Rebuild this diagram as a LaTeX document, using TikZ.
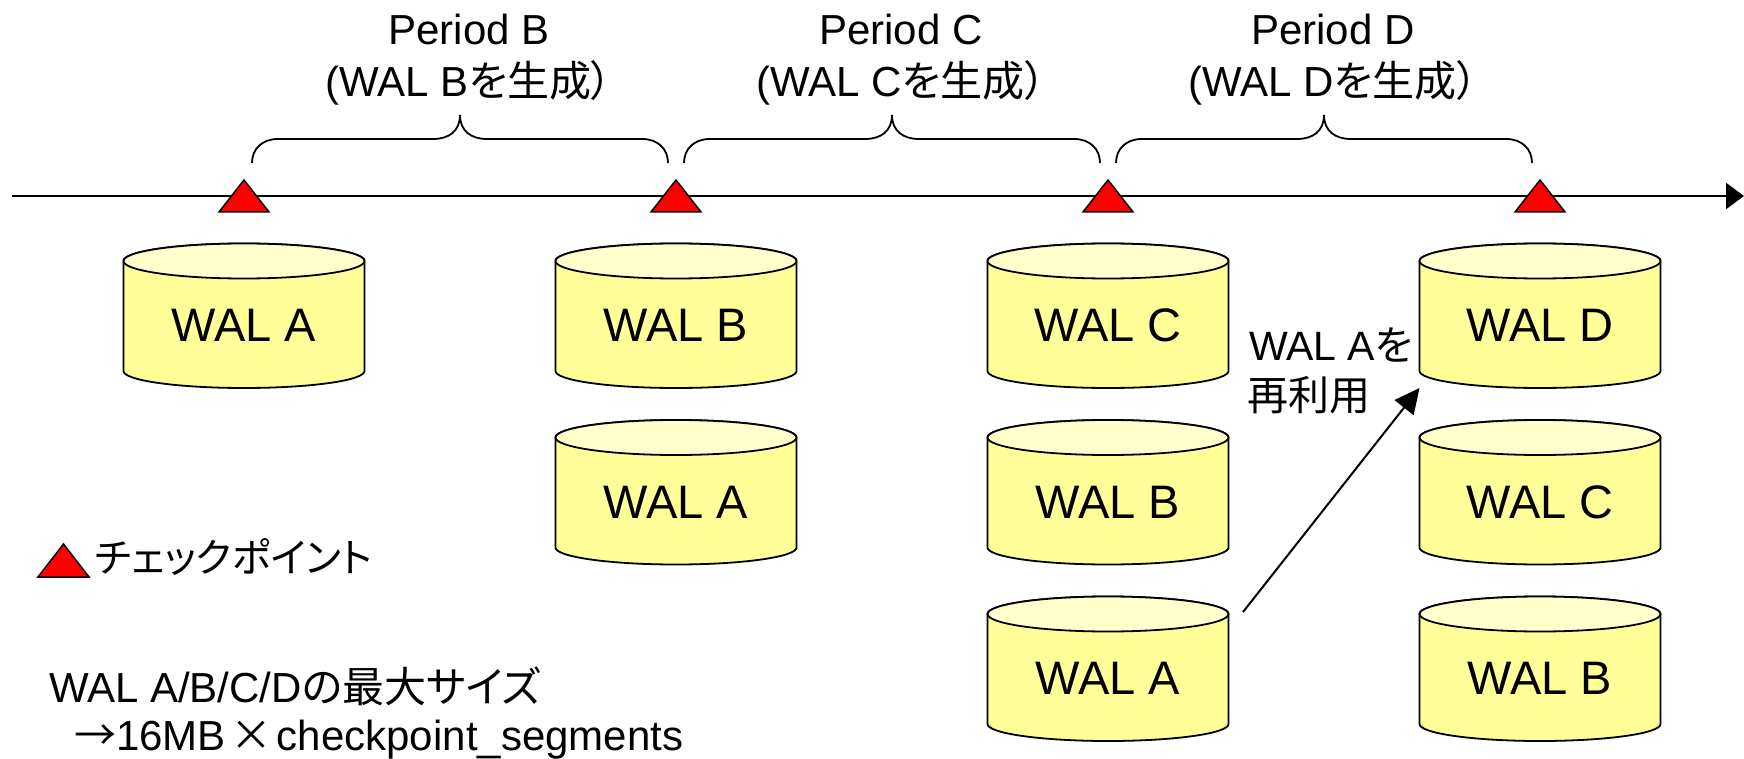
\documentclass[tikz,border=0pt]{standalone}
\usepackage{fontspec}
\setmainfont{Liberation Sans}
\newfontfamily\jp[RawFeature=+palt]{Noto Sans CJK JP}
\newfontfamily\jpf{Noto Sans CJK JP}
\usetikzlibrary{arrows.meta,calc}
\definecolor{walbody}{HTML}{FFFF99}
\definecolor{waltop}{HTML}{FFFFCC}
\definecolor{ckred}{HTML}{FF0000}
\tikzset{
  cylline/.style={draw=black, line width=1.8pt},
  waltext/.style={inner sep=0pt, font=\fontsize{47}{56}\selectfont},
  ptext/.style={inner sep=0pt, anchor=base, font=\fontsize{42}{52}\selectfont},
  lbltext/.style={inner sep=0pt, anchor=base west, font=\fontsize{41}{50}\selectfont},
  lgstyle/.style={inner sep=0pt, anchor=base west, font=\fontsize{40}{50}\selectfont},
  ckptshape/.style={draw=black, fill=ckred, line width=1.5pt, line join=miter},
  bracestyle/.style={draw=black, line width=1.8pt},
  timeline/.style={draw=black, line width=2.2pt, -{Triangle[length=18pt,width=26pt]}},
  reusearrow/.style={draw=black, line width=2pt, -{Triangle[length=25pt,width=24pt]}},
}
\newcommand\walcyl[4]{%
  \draw[cylline, fill=walbody] (#2-120.5,#3+17.5) -- (#2-120.5,#3+127.5)
    arc[start angle=180,end angle=360,x radius=120.5pt,y radius=17pt]
    -- (#2+120.5,#3+17.5)
    arc[start angle=0,end angle=180,x radius=120.5pt,y radius=17.5pt] -- cycle;
  \draw[cylline, fill=waltop] (#2,#3+17.5) ellipse[x radius=120.5pt, y radius=17.5pt];
  \node[waltext] (#1) at (#2,#3+82) {#4};}
\newcommand\ckpt[3]{%
  \coordinate (#1) at (#2,#3);
  \draw[ckptshape] ($(#1)+(-25,16)$) -- ($(#1)+(0,-16)$) -- ($(#1)+(25,16)$) -- cycle;}
\newcommand\wbrace[2]{%
  \pgfmathsetmacro\bxm{(#1+#2)/2}%
  \draw[bracestyle] (#1,163) .. controls (#1,149) and (#1+10,139) .. (#1+26,139)
    -- (\bxm-27,139) .. controls (\bxm-11,139) and (\bxm,131) .. (\bxm,115)
    .. controls (\bxm,131) and (\bxm+11,139) .. (\bxm+27,139)
    -- (#2-26,139) .. controls (#2-10,139) and (#2,149) .. (#2,163);}
\begin{document}
\begin{tikzpicture}[x=1pt,y=-1pt]
\useasboundingbox (0,0) rectangle (1744,759);
% timeline
\coordinate (tlStart) at (12,196);
\coordinate (tlEnd) at (1744,196);
\draw[timeline] (tlStart) -- (tlEnd);
% checkpoints
\ckpt{ck1}{244}{196}
\ckpt{ck2}{676}{196}
\ckpt{ck3}{1108}{196}
\ckpt{ck4}{1540}{196}
% braces
\wbrace{252}{668}
\wbrace{684}{1100}
\wbrace{1116}{1532}
% period labels
\node[ptext] (pB1) at (469,45) {Period B};
\node[ptext] (pB2) at (469,97) {(WAL B{\jp を生成）}};
\node[ptext] (pC1) at (901,45) {Period C};
\node[ptext] (pC2) at (901,97) {(WAL C{\jp を生成）}};
\node[ptext] (pD1) at (1333,45) {Period D};
\node[ptext] (pD2) at (1333,97) {(WAL D{\jp を生成）}};
% WAL cylinders
\walcyl{c1a}{244}{243.5}{WAL A}
\walcyl{c2b}{676}{243.5}{WAL B}
\walcyl{c2a}{676}{420}{WAL A}
\walcyl{c3c}{1108}{243.5}{WAL C}
\walcyl{c3b}{1108}{420}{WAL B}
\walcyl{c3a}{1108}{596.5}{WAL A}
\walcyl{c4d}{1540}{243.5}{WAL D}
\walcyl{c4c}{1540}{420}{WAL C}
\walcyl{c4b}{1540}{596.5}{WAL B}
% reuse arrow and label
\coordinate (reuseFrom) at (1243,612);
\coordinate (reuseTo) at (1419.5,388);
\draw[reusearrow] (reuseFrom) -- (reuseTo);
\node[lbltext] (reuse1) at (1249,360) {WAL A{\jp を}};
\node[lbltext] (reuse2) at (1247,410) {{\jp 再利用}};
% legend
\coordinate (lgck) at (63.5,560.5);
\draw[ckptshape] ($(lgck)+(-25.5,16.5)$) -- ($(lgck)+(0,-16.5)$) -- ($(lgck)+(25.5,16.5)$) -- cycle;
\node[lgstyle] (lgtext) at (95,572) {{\jp チェックポイント}};
% notes
\node[ptext, anchor=base west] (maxsize) at (49,702) {WAL A/B/C/D{\jp の最大サイズ}};
\node[ptext, anchor=base west] (formula) at (74,750) {{\jpf →}16MB\hspace{5pt}{\jpf ×}\hspace{4pt}checkpoint\_segments};
\end{tikzpicture}
\end{document}
